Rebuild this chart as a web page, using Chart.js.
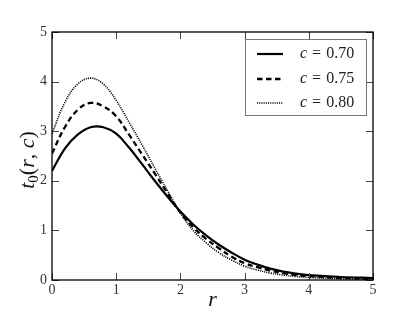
<!DOCTYPE html>
<html>
<head>
<meta charset="utf-8">
<script src="https://cdn.jsdelivr.net/npm/chart.js@4/dist/chart.umd.min.js"></script>
<style>
html,body{margin:0;padding:0;background:#fff;}
#c{display:block;}
</style>
</head>
<body>
<canvas id="c" width="415" height="312"></canvas>
<script>
// ---- data ----
const rValues = [0, 0.2, 0.4, 0.6, 0.8, 1.0, 1.2, 1.4, 1.6, 1.8, 2.0, 2.2, 2.4, 2.6, 2.8, 3.0, 3.2, 3.4, 3.6, 3.8, 4.0, 4.5, 5];
const c070 = [2.2, 2.65, 2.93, 3.08, 3.08, 2.95, 2.67, 2.34, 2.0, 1.68, 1.38, 1.12, 0.9, 0.71, 0.55, 0.41, 0.31, 0.23, 0.17, 0.13, 0.1, 0.06, 0.04];
const c075 = [2.55, 3.08, 3.43, 3.57, 3.5, 3.3, 2.93, 2.54, 2.15, 1.75, 1.36, 1.06, 0.83, 0.64, 0.47, 0.34, 0.26, 0.19, 0.14, 0.1, 0.08, 0.04, 0.02];
const c080 = [2.95, 3.58, 3.95, 4.07, 3.95, 3.62, 3.18, 2.73, 2.26, 1.8, 1.35, 1.0, 0.75, 0.55, 0.4, 0.28, 0.2, 0.14, 0.1, 0.07, 0.05, 0.025, 0.01];
const seriesValues = ['0.70', '0.75', '0.80'];
const xTicks = [0, 1, 2, 3, 4, 5];
const yTicks = [0, 1, 2, 3, 4, 5];

const SERIF = '"Liberation Serif", "DejaVu Serif", serif';

function pts(arr){ return rValues.map((r,i)=>({x:r, y:arr[i]})); }

const styles = [
  {borderWidth:2.2, borderDash:[]},
  {borderWidth:2.3, borderDash:[5.5,3.5]},
  {borderWidth:1.6, borderDash:[1.1,1.1]}
];

const datasets = [c070, c075, c080].map((arr,i)=>({
  label: 'c = ' + seriesValues[i],
  data: pts(arr),
  borderColor: '#000',
  backgroundColor: '#000',
  borderWidth: styles[i].borderWidth,
  borderDash: styles[i].borderDash,
  pointRadius: 0,
  fill: false,
  tension: 0.4
}));

const framePlugin = {
  id: 'frame',
  afterDatasetsDraw(chart){
    const {ctx, chartArea:a, scales} = chart;
    ctx.save();
    // inside ticks on all sides
    ctx.strokeStyle = '#444';
    ctx.lineWidth = 1;
    const tl = 7;
    xTicks.forEach(v=>{
      const x = Math.round(scales.x.getPixelForValue(v)) + 0.5;
      ctx.beginPath();
      ctx.moveTo(x, a.bottom); ctx.lineTo(x, a.bottom - tl);
      ctx.moveTo(x, a.top); ctx.lineTo(x, a.top + tl);
      ctx.stroke();
    });
    yTicks.forEach(v=>{
      const y = Math.round(scales.y.getPixelForValue(v)) + 0.5;
      ctx.beginPath();
      ctx.moveTo(a.left, y); ctx.lineTo(a.left + tl, y);
      ctx.moveTo(a.right, y); ctx.lineTo(a.right - tl, y);
      ctx.stroke();
    });
    // frame
    ctx.strokeStyle = '#000';
    ctx.lineWidth = 1.3;
    ctx.setLineDash([]);
    ctx.strokeRect(a.left, a.top, a.right - a.left, a.bottom - a.top);

    // legend
    const bx = 245, by = 39, bw = 121, bh = 76;
    ctx.fillStyle = '#fff';
    ctx.fillRect(bx, by, bw, bh);
    ctx.strokeStyle = '#777';
    ctx.lineWidth = 1;
    ctx.strokeRect(bx + 0.5, by + 0.5, bw, bh);
    const rows = [54, 79, 103];
    chart.data.datasets.forEach((ds, i)=>{
      const y = rows[i];
      ctx.beginPath();
      ctx.strokeStyle = '#000';
      ctx.lineWidth = ds.borderWidth;
      ctx.setLineDash(ds.borderDash);
      ctx.moveTo(257, y); ctx.lineTo(283, y);
      ctx.stroke();
      ctx.setLineDash([]);
      ctx.fillStyle = '#222';
      ctx.textBaseline = 'middle';
      ctx.textAlign = 'left';
      ctx.font = 'italic 16px ' + SERIF;
      let x = 300;
      ctx.fillText('c', x, y);
      x += ctx.measureText('c').width + 5;
      ctx.font = '16px ' + SERIF;
      ctx.fillText('=', x, y);
      x += ctx.measureText('=').width + 5;
      ctx.fillText(seriesValues[i], x, y);
    });

    // axis titles
    ctx.fillStyle = '#111';
    ctx.textBaseline = 'alphabetic';
    ctx.font = 'italic 22px ' + SERIF;
    ctx.textAlign = 'center';
    ctx.fillText('r', (a.left + a.right) / 2, 306);

    // y title t0(r, c), rotated
    const parts = [
      {t:'t', f:'italic 22px ' + SERIF, dy:0},
      {t:'0', f:'15px ' + SERIF, dy:4},
      {t:'(', f:'22px ' + SERIF, dy:0},
      {t:'r', f:'italic 22px ' + SERIF, dy:0},
      {t:', ', f:'22px ' + SERIF, dy:0},
      {t:'c', f:'italic 22px ' + SERIF, dy:0},
      {t:')', f:'22px ' + SERIF, dy:0}
    ];
    let total = 0;
    parts.forEach(p=>{ ctx.font = p.f; p.w = ctx.measureText(p.t).width; total += p.w; });
    ctx.translate(34, 160);
    ctx.rotate(-Math.PI/2);
    ctx.textAlign = 'left';
    let px = -total/2;
    parts.forEach(p=>{ ctx.font = p.f; ctx.fillText(p.t, px, p.dy); px += p.w; });
    ctx.restore();
  }
};

new Chart(document.getElementById('c'), {
  type: 'line',
  data: { datasets },
  options: {
    responsive: false,
    animation: false,
    events: [],
    layout: { padding: { left: 0, right: 42, top: 32, bottom: 0 } },
    plugins: { legend: { display: false }, tooltip: { enabled: false } },
    scales: {
      x: {
        type: 'linear', min: 0, max: 5,
        grid: { display: false, drawTicks: false },
        border: { display: false },
        afterBuildTicks(s){ s.ticks = xTicks.map(v=>({value:v})); },
        afterFit(s){ s.height = 32; },
        ticks: { padding: 2, color: '#333', font: { family: SERIF, size: 14 }, maxRotation: 0 }
      },
      y: {
        type: 'linear', min: 0, max: 5,
        grid: { display: false, drawTicks: false },
        border: { display: false },
        afterBuildTicks(s){ s.ticks = yTicks.map(v=>({value:v})); },
        afterFit(s){ s.width = 52; },
        ticks: { padding: 5, color: '#333', font: { family: SERIF, size: 14 } }
      }
    }
  },
  plugins: [framePlugin]
});
</script>
</body>
</html>
